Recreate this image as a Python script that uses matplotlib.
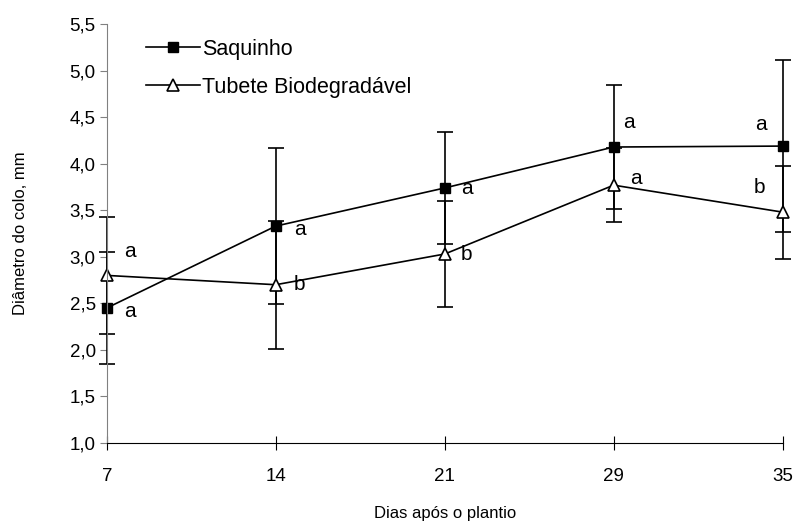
import numpy as np
import matplotlib.pyplot as plt
from matplotlib.lines import Line2D

plt.rcParams['font.family'] = ['Liberation Sans', 'DejaVu Sans']

dias = ['7', '14', '21', '29', '35']
saquinho = [2.45, 3.33, 3.74, 4.18, 4.19]
saquinho_err = [0.60, 0.84, 0.60, 0.67, 0.92]
tubete = [2.80, 2.70, 3.03, 3.77, 3.48]
tubete_err = [0.63, 0.69, 0.57, 0.40, 0.50]
letras_saq = ['a', 'a', 'a', 'a', 'a']
letras_tub = ['a', 'b', 'b', 'a', 'b']

# offsets of the letters from their points (pixels, y down)
off_saq = [(23, 4), (24, 3), (22, 1), (15, -25), (-22, -22)]
off_tub = [(23, -24), (24, 0), (22, 0), (22, -7), (-23, -25)]

fig = plt.figure(figsize=(7.97, 5.26), dpi=100)
ax = fig.add_axes([0.134, 0.158, 0.848, 0.796])

x = np.arange(len(dias))
ax.errorbar(x, saquinho, yerr=saquinho_err, color='black', lw=1.2,
            marker='s', ms=7, mfc='black', mec='black', capsize=6,
            elinewidth=1.2, capthick=1.2, clip_on=False)
ax.errorbar(x, tubete, yerr=tubete_err, color='black', lw=1.2,
            marker='^', ms=8, mfc='white', mec='black', mew=1.2, capsize=6,
            elinewidth=1.2, capthick=1.2, clip_on=False)

for i in range(len(dias)):
    ax.annotate(letras_saq[i], (x[i], saquinho[i]),
                xytext=(off_saq[i][0] * 0.72, -off_saq[i][1] * 0.72),
                textcoords='offset points', ha='center', va='center', fontsize=15)
    ax.annotate(letras_tub[i], (x[i], tubete[i]),
                xytext=(off_tub[i][0] * 0.72, -off_tub[i][1] * 0.72),
                textcoords='offset points', ha='center', va='center', fontsize=15)

ax.set_xlim(0, len(dias) - 1)
ax.set_ylim(1.0, 5.5)
ax.set_xticks(x)
ax.set_xticklabels(dias)
yt = np.arange(1.0, 5.51, 0.5)
ax.set_yticks(yt)
ax.set_yticklabels([('%.1f' % v).replace('.', ',') for v in yt])

ax.spines['top'].set_visible(False)
ax.spines['right'].set_visible(False)
ax.spines['left'].set_color('#808080')
ax.spines['bottom'].set_color('black')
ax.tick_params(axis='y', direction='out', length=5, color='#808080', labelsize=13.5, pad=3)
ax.tick_params(axis='x', direction='inout', length=10, color='black', labelsize=13.5, pad=13)

ax.set_xlabel('Dias após o plantio', fontsize=12, labelpad=15)
ax.set_ylabel('Diâmetro do colo, mm', fontsize=12, labelpad=30)

handles = [Line2D([], [], color='black', lw=1.2, marker='s', ms=7, mfc='black'),
           Line2D([], [], color='black', lw=1.2, marker='^', ms=8, mfc='white', mew=1.2)]
ax.legend(handles, ['Saquinho', 'Tubete Biodegradável'], loc='upper left',
          bbox_to_anchor=(0.03, 1.012), frameon=False, fontsize=15.5,
          handlelength=2.5, handletextpad=0.1, labelspacing=0.8)

fig.savefig('out.png', dpi=100)
